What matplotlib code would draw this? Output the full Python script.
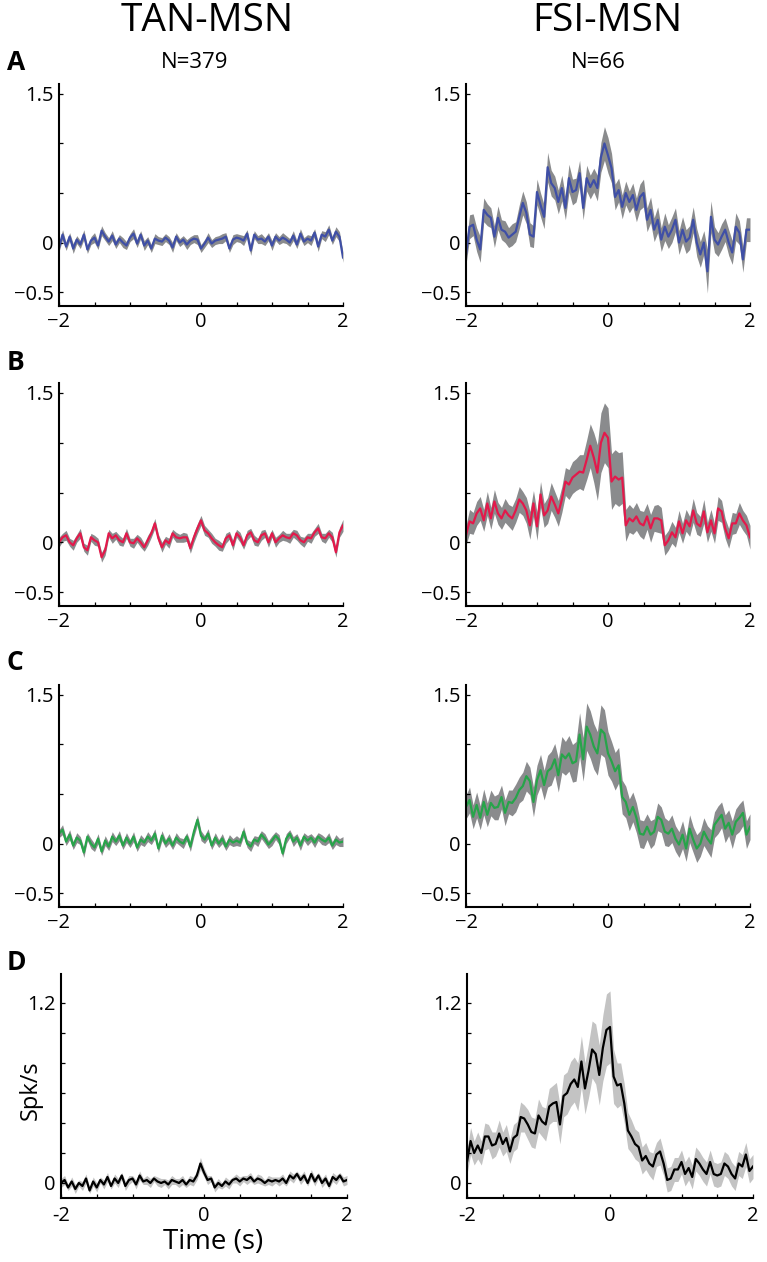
import numpy as np
import matplotlib
matplotlib.use("Agg")
import matplotlib.pyplot as plt

plt.rcParams['font.family'] = ['Open Sans', 'DejaVu Sans']

# ---------------- data ----------------
col_titles = ["TAN-MSN", "FSI-MSN"]
n_labels = ["N=379", "N=66"]
panel_letters = ["A", "B", "C", "D"]

# TAN-MSN (left column) means, t = -2 .. 2 s in 0.05 s steps
tan_A = [-0.05, 0.08, -0.04, 0.06, -0.06, 0.03, -0.02, 0.08, -0.07, 0.02,
         0.05, -0.03, 0.12, 0.06, 0.01, 0.07, -0.02, 0.04, 0.00, -0.03,
         0.05, 0.09, -0.01, 0.08, -0.03, 0.02, -0.06, 0.04, 0.02, 0.01,
         0.05, 0.02, -0.05, 0.06, 0.00, 0.03, -0.02, 0.02, 0.04, 0.03,
         -0.06, -0.01, 0.05, -0.01, 0.02, 0.03, 0.04, 0.06, -0.06, 0.03,
         0.05, 0.04, 0.02, 0.09, -0.08, 0.08, 0.03, 0.04, 0.01, 0.06,
         -0.03, 0.06, 0.02, 0.05, 0.03, 0.00, 0.07, -0.02, 0.09, 0.01,
         0.04, 0.02, 0.10, -0.04, 0.08, 0.06, 0.13, 0.02, 0.11, 0.06,
         -0.15]
tan_B = [0.00, 0.05, 0.07, 0.00, -0.03, 0.04, 0.09, -0.05, -0.08, 0.05,
         0.02, 0.00, -0.15, -0.08, 0.09, 0.04, 0.07, 0.02, 0.00, 0.09,
         0.00, -0.01, 0.04, 0.00, -0.05, 0.02, 0.09, 0.19, 0.04, -0.05,
         0.02, -0.01, 0.09, 0.05, 0.04, 0.05, 0.05, -0.06, 0.05, 0.14,
         0.22, 0.12, 0.09, 0.04, 0.00, -0.03, -0.05, 0.04, 0.07, -0.03,
         0.09, 0.05, -0.03, 0.07, 0.10, 0.02, 0.00, 0.07, 0.09, 0.00,
         0.09, 0.00, 0.04, 0.07, 0.05, 0.04, 0.09, 0.07, 0.02, 0.00,
         0.05, 0.04, 0.10, 0.14, 0.05, 0.04, 0.09, 0.05, -0.10, 0.10,
         0.17]
tan_C = [0.10, 0.14, 0.02, 0.09, -0.02, 0.06, 0.03, -0.09, 0.07, 0.00,
         -0.04, 0.05, -0.08, 0.03, -0.03, 0.07, 0.02, 0.08, -0.02, 0.06,
         0.00, 0.07, -0.04, 0.04, 0.01, 0.07, 0.03, 0.10, -0.05, 0.08,
         0.00, 0.05, -0.02, 0.06, 0.02, 0.00, 0.07, -0.03, 0.12, 0.24,
         0.08, 0.04, 0.10, -0.02, 0.06, 0.00, 0.05, -0.03, 0.04, 0.01,
         0.03, 0.01, 0.12, 0.00, -0.03, 0.04, 0.02, 0.09, 0.05, -0.01,
         0.03, 0.08, 0.04, -0.10, 0.05, 0.10, 0.02, 0.06, -0.02, 0.07,
         0.03, 0.06, 0.01, 0.07, 0.04, 0.02, 0.06, -0.02, 0.04, 0.01,
         0.02]
tan_D = [0.00, 0.02, -0.03, 0.01, -0.04, 0.00, -0.02, 0.03, -0.05, 0.01,
         -0.03, 0.02, -0.01, 0.04, -0.02, 0.03, 0.00, 0.05, -0.02, 0.02,
         0.03, -0.01, 0.05, 0.01, 0.02, 0.00, 0.03, 0.01, 0.00, 0.01,
         -0.01, 0.02, 0.01, 0.00, 0.02, -0.01, 0.02, 0.01, 0.05, 0.13,
         0.07, 0.02, 0.03, -0.03, 0.00, -0.02, 0.01, -0.01, 0.02, 0.03,
         0.01, 0.03, 0.02, 0.04, 0.01, 0.03, 0.02, 0.00, 0.02, 0.01,
         0.02, 0.01, 0.03, 0.00, 0.05, 0.03, 0.06, 0.02, 0.05, 0.00,
         0.06, 0.01, 0.05, 0.00, 0.03, -0.02, 0.04, 0.02, 0.05, 0.01,
         0.02]
tan_sem_A = [0.04, 0.05, 0.04, 0.04, 0.05, 0.04, 0.04, 0.05, 0.04, 0.04,
             0.05, 0.04, 0.05, 0.04, 0.04, 0.05, 0.04, 0.04, 0.05, 0.04,
             0.04, 0.05, 0.04, 0.04, 0.05, 0.04, 0.04, 0.05, 0.04, 0.04,
             0.04, 0.04, 0.05, 0.04, 0.04, 0.04, 0.05, 0.04, 0.04, 0.05,
             0.04, 0.04, 0.05, 0.04, 0.04, 0.04, 0.05, 0.04, 0.04, 0.05,
             0.04, 0.04, 0.05, 0.04, 0.05, 0.04, 0.04, 0.05, 0.04, 0.04,
             0.05, 0.04, 0.04, 0.05, 0.04, 0.04, 0.05, 0.04, 0.05, 0.04,
             0.04, 0.05, 0.04, 0.05, 0.04, 0.05, 0.05, 0.04, 0.05, 0.05,
             0.05]
tan_sem_B = [0.05, 0.04, 0.05, 0.04, 0.05, 0.04, 0.05, 0.04, 0.05, 0.04,
             0.05, 0.04, 0.05, 0.05, 0.04, 0.05, 0.04, 0.05, 0.04, 0.05,
             0.04, 0.05, 0.04, 0.05, 0.04, 0.05, 0.04, 0.05, 0.04, 0.05,
             0.04, 0.05, 0.04, 0.05, 0.04, 0.05, 0.04, 0.05, 0.05, 0.05,
             0.05, 0.05, 0.04, 0.05, 0.04, 0.05, 0.04, 0.05, 0.04, 0.05,
             0.04, 0.05, 0.04, 0.05, 0.04, 0.05, 0.04, 0.05, 0.04, 0.05,
             0.04, 0.05, 0.04, 0.05, 0.04, 0.05, 0.04, 0.05, 0.04, 0.05,
             0.04, 0.05, 0.04, 0.05, 0.04, 0.05, 0.04, 0.05, 0.05, 0.05,
             0.06]
tan_sem_C = [0.04, 0.05, 0.04, 0.05, 0.04, 0.05, 0.04, 0.05, 0.04, 0.05,
             0.04, 0.05, 0.04, 0.05, 0.04, 0.05, 0.04, 0.05, 0.04, 0.05,
             0.04, 0.05, 0.04, 0.05, 0.04, 0.05, 0.04, 0.05, 0.04, 0.05,
             0.04, 0.05, 0.04, 0.05, 0.04, 0.05, 0.04, 0.05, 0.05, 0.05,
             0.05, 0.04, 0.05, 0.04, 0.05, 0.04, 0.05, 0.04, 0.05, 0.04,
             0.05, 0.04, 0.05, 0.04, 0.05, 0.04, 0.05, 0.04, 0.05, 0.04,
             0.05, 0.04, 0.05, 0.04, 0.05, 0.04, 0.05, 0.04, 0.05, 0.04,
             0.05, 0.04, 0.05, 0.04, 0.05, 0.04, 0.05, 0.04, 0.05, 0.04,
             0.05]
tan_sem_D = [0.03, 0.03, 0.02, 0.03, 0.03, 0.02, 0.03, 0.03, 0.02, 0.03,
             0.03, 0.02, 0.03, 0.03, 0.02, 0.03, 0.03, 0.02, 0.03, 0.03,
             0.02, 0.03, 0.03, 0.02, 0.03, 0.03, 0.02, 0.03, 0.03, 0.02,
             0.03, 0.03, 0.02, 0.03, 0.03, 0.02, 0.03, 0.03, 0.03, 0.04,
             0.03, 0.03, 0.02, 0.03, 0.03, 0.02, 0.03, 0.03, 0.02, 0.03,
             0.03, 0.02, 0.03, 0.03, 0.02, 0.03, 0.03, 0.02, 0.03, 0.03,
             0.02, 0.03, 0.03, 0.02, 0.03, 0.03, 0.02, 0.03, 0.03, 0.02,
             0.03, 0.03, 0.02, 0.03, 0.03, 0.02, 0.03, 0.03, 0.02, 0.03,
             0.03]

# FSI-MSN (right column) means
fsi_A = [-0.12, 0.16, 0.18, 0.03, -0.07, 0.33, 0.28, 0.25, 0.06, 0.25,
         0.13, 0.11, 0.05, 0.08, 0.11, 0.26, 0.40, 0.30, 0.08, 0.06,
         0.51, 0.38, 0.26, 0.76, 0.60, 0.55, 0.41, 0.55, 0.35, 0.65,
         0.51, 0.53, 0.70, 0.35, 0.65, 0.56, 0.63, 0.55, 0.86, 1.00,
         0.88, 0.75, 0.46, 0.53, 0.36, 0.50, 0.41, 0.48, 0.33, 0.46,
         0.50, 0.23, 0.33, 0.13, 0.23, 0.03, 0.16, 0.06, 0.13, 0.23,
         0.00, 0.13, 0.01, 0.05, 0.23, 0.00, -0.12, 0.00, -0.29, 0.26,
         0.03, -0.02, 0.06, 0.13, 0.00, -0.10, 0.16, 0.10, -0.17, 0.13,
         0.13]
fsi_B = [0.07, 0.21, 0.19, 0.29, 0.34, 0.22, 0.39, 0.24, 0.41, 0.29,
         0.24, 0.32, 0.27, 0.24, 0.32, 0.43, 0.39, 0.32, 0.17, 0.39,
         0.16, 0.48, 0.27, 0.32, 0.46, 0.38, 0.29, 0.43, 0.61, 0.58,
         0.65, 0.68, 0.71, 0.70, 0.83, 0.97, 0.85, 0.70, 1.00, 1.10,
         1.05, 0.61, 0.66, 0.63, 0.65, 0.17, 0.24, 0.21, 0.26, 0.19,
         0.17, 0.26, 0.14, 0.24, 0.24, 0.22, -0.03, 0.02, 0.10, 0.05,
         0.21, 0.09, 0.22, 0.16, 0.32, 0.19, 0.16, 0.31, 0.10, 0.22,
         0.09, 0.34, 0.31, 0.14, 0.04, 0.19, 0.19, 0.29, 0.22, 0.17,
         0.05]
fsi_C = [0.37, 0.44, 0.27, 0.39, 0.26, 0.42, 0.29, 0.41, 0.36, 0.37,
         0.47, 0.31, 0.42, 0.41, 0.46, 0.54, 0.58, 0.68, 0.63, 0.42,
         0.64, 0.74, 0.59, 0.73, 0.76, 0.85, 0.69, 0.90, 0.86, 0.91,
         0.81, 0.83, 1.10, 0.85, 1.18, 1.10, 0.98, 0.91, 1.15, 1.11,
         0.91, 0.83, 0.73, 0.79, 0.47, 0.42, 0.29, 0.37, 0.26, 0.10,
         0.09, 0.17, 0.09, 0.12, 0.27, 0.24, 0.12, 0.10, 0.15, 0.05,
         -0.01, 0.09, -0.05, 0.15, 0.04, -0.05, 0.00, 0.12, 0.05, 0.00,
         0.19, 0.24, 0.29, 0.15, 0.21, 0.09, 0.22, 0.26, 0.31, 0.09,
         0.17]
fsi_D = [0.14, 0.28, 0.20, 0.25, 0.20, 0.31, 0.31, 0.25, 0.26, 0.33,
         0.26, 0.30, 0.21, 0.30, 0.32, 0.44, 0.43, 0.39, 0.34, 0.33,
         0.45, 0.41, 0.39, 0.51, 0.53, 0.54, 0.39, 0.58, 0.60, 0.66,
         0.69, 0.64, 0.81, 0.63, 0.75, 0.89, 0.86, 0.72, 0.90, 1.02,
         1.04, 0.71, 0.65, 0.66, 0.53, 0.35, 0.31, 0.26, 0.24, 0.15,
         0.18, 0.13, 0.11, 0.19, 0.21, 0.13, 0.02, 0.03, 0.09, 0.09,
         0.14, 0.06, 0.10, 0.04, 0.16, 0.13, 0.09, 0.06, 0.14, 0.06,
         0.05, 0.06, 0.13, 0.11, 0.06, 0.03, 0.13, 0.11, 0.19, 0.08,
         0.11]
fsi_sem_A = [0.10, 0.12, 0.11, 0.12, 0.13, 0.12, 0.11, 0.10, 0.11, 0.12,
             0.10, 0.11, 0.10, 0.11, 0.10, 0.12, 0.12, 0.11, 0.12, 0.11,
             0.13, 0.12, 0.12, 0.15, 0.13, 0.12, 0.12, 0.13, 0.12, 0.14,
             0.13, 0.12, 0.13, 0.12, 0.13, 0.12, 0.12, 0.13, 0.15, 0.17,
             0.18, 0.15, 0.13, 0.12, 0.12, 0.12, 0.11, 0.12, 0.12, 0.13,
             0.14, 0.12, 0.13, 0.12, 0.13, 0.12, 0.14, 0.12, 0.13, 0.12,
             0.12, 0.13, 0.12, 0.12, 0.13, 0.14, 0.13, 0.12, 0.22, 0.16,
             0.13, 0.12, 0.13, 0.12, 0.13, 0.12, 0.14, 0.12, 0.13, 0.12,
             0.12]
fsi_sem_B = [0.10, 0.12, 0.11, 0.12, 0.12, 0.11, 0.12, 0.11, 0.12, 0.11,
             0.11, 0.12, 0.11, 0.12, 0.12, 0.13, 0.12, 0.13, 0.14, 0.13,
             0.14, 0.13, 0.12, 0.13, 0.14, 0.13, 0.13, 0.13, 0.14, 0.15,
             0.16, 0.16, 0.17, 0.18, 0.20, 0.22, 0.25, 0.28, 0.30, 0.30,
             0.30, 0.28, 0.27, 0.27, 0.26, 0.16, 0.14, 0.13, 0.14, 0.13,
             0.14, 0.13, 0.14, 0.13, 0.14, 0.13, 0.10, 0.10, 0.11, 0.10,
             0.11, 0.10, 0.11, 0.10, 0.12, 0.11, 0.10, 0.12, 0.10, 0.11,
             0.10, 0.12, 0.11, 0.10, 0.10, 0.11, 0.10, 0.11, 0.10, 0.10,
             0.12]
fsi_sem_C = [0.12, 0.13, 0.12, 0.13, 0.12, 0.13, 0.12, 0.13, 0.12, 0.13,
             0.12, 0.13, 0.12, 0.13, 0.14, 0.13, 0.14, 0.15, 0.14, 0.15,
             0.15, 0.16, 0.15, 0.16, 0.17, 0.16, 0.17, 0.18, 0.17, 0.18,
             0.19, 0.20, 0.22, 0.22, 0.24, 0.24, 0.23, 0.22, 0.25, 0.24,
             0.22, 0.20, 0.19, 0.18, 0.17, 0.16, 0.16, 0.15, 0.15, 0.14,
             0.14, 0.13, 0.14, 0.13, 0.14, 0.13, 0.14, 0.13, 0.14, 0.13,
             0.13, 0.14, 0.13, 0.14, 0.13, 0.14, 0.13, 0.14, 0.13, 0.14,
             0.13, 0.14, 0.13, 0.14, 0.13, 0.14, 0.13, 0.14, 0.13, 0.14,
             0.13]
fsi_sem_D = [0.08, 0.09, 0.08, 0.09, 0.08, 0.09, 0.08, 0.09, 0.08, 0.09,
             0.08, 0.09, 0.08, 0.09, 0.09, 0.10, 0.09, 0.10, 0.10, 0.10,
             0.11, 0.10, 0.11, 0.12, 0.12, 0.13, 0.13, 0.14, 0.14, 0.15,
             0.15, 0.16, 0.17, 0.17, 0.18, 0.19, 0.20, 0.20, 0.22, 0.24,
             0.24, 0.18, 0.15, 0.14, 0.13, 0.12, 0.11, 0.10, 0.10, 0.09,
             0.09, 0.08, 0.09, 0.08, 0.09, 0.08, 0.08, 0.08, 0.08, 0.08,
             0.08, 0.08, 0.08, 0.08, 0.08, 0.08, 0.08, 0.08, 0.08, 0.08,
             0.08, 0.08, 0.08, 0.08, 0.08, 0.08, 0.08, 0.08, 0.08, 0.08,
             0.08]

line_colors = ["#3f4fa6", "#e3194b", "#27a44a", "#000000"]
band_colors = ["#8a8b8d", "#8a8b8d", "#8a8b8d", "#c3c3c3"]

x_ticks = [-2, -1.5, -1, -0.5, 0, 0.5, 1, 1.5, 2]
x_labels_abc = ["\u22122", "", "", "", "0", "", "", "", "2"]
x_labels_d = ["-2", "", "", "", "0", "", "", "", "2"]
y_ticks_abc = [-0.5, 0, 0.5, 1.0, 1.5]
y_labels_abc = ["\u22120.5", "0", "", "", "1.5"]
y_ticks_d = [0, 0.2, 0.4, 0.6, 0.8, 1.0, 1.2]
y_labels_d = ["0", "", "", "", "", "", "1.2"]

# ---------------- layout ----------------
W, H = 767, 1262
fig = plt.figure(figsize=(W / 100, H / 100), dpi=100)

def ax_at(x0, x1, ytop, ybot):
    return fig.add_axes([x0 / W, 1 - ybot / H, (x1 - x0) / W, (ybot - ytop) / H])

rows_y = [(84, 306), (383, 606), (685, 907), (974, 1198)]
cols_x = [[(59, 343), (466, 750)]] * 3 + [[(61, 347), (467, 753)]]

left_means = [tan_A, tan_B, tan_C, tan_D]
left_sems = [tan_sem_A, tan_sem_B, tan_sem_C, tan_sem_D]
right_means = [fsi_A, fsi_B, fsi_C, fsi_D]
right_sems = [fsi_sem_A, fsi_sem_B, fsi_sem_C, fsi_sem_D]

for r in range(4):
    for c in range(2):
        x0, x1 = cols_x[r][c]
        yt, yb = rows_y[r]
        ax = ax_at(x0, x1, yt, yb)
        m = np.array(left_means[r] if c == 0 else right_means[r])
        s = np.array(left_sems[r] if c == 0 else right_sems[r])
        t = np.linspace(-2, 2, len(m))
        ax.fill_between(t, m - s, m + s, color=band_colors[r], lw=0)
        ax.plot(t, m, color=line_colors[r], lw=1.6)
        ax.set_xlim(-2, 2)
        if r < 3:
            ax.set_ylim(-0.64, 1.6)
            ax.set_yticks(y_ticks_abc)
            ax.set_yticklabels(y_labels_abc)
            ax.set_xticks(x_ticks)
            ax.set_xticklabels(x_labels_abc)
            xpad = 4
        else:
            ax.set_ylim(-0.10, 1.393)
            ax.set_yticks(y_ticks_d)
            ax.set_yticklabels(y_labels_d)
            ax.set_xticks(x_ticks)
            ax.set_xticklabels(x_labels_d)
            xpad = 6
        for sp in ["top", "right"]:
            ax.spines[sp].set_visible(False)
        for sp in ["left", "bottom"]:
            ax.spines[sp].set_linewidth(1.5)
        ax.tick_params(axis="both", direction="in", length=3, width=0.9,
                       labelsize=14.5)
        ax.tick_params(axis="x", pad=xpad)
        ax.tick_params(axis="y", pad=4)

# titles
fig.text(207 / W, 1 - 21 / H, col_titles[0], fontsize=28, ha="center", va="center")
fig.text(607 / W, 1 - 21 / H, col_titles[1], fontsize=28, ha="center", va="center")
fig.text(195 / W, 1 - 63 / H, n_labels[0], fontsize=16, ha="center", va="center")
fig.text(598 / W, 1 - 63 / H, n_labels[1], fontsize=16, ha="center", va="center")

letter_y = [63, 362, 663, 962]
for L, yy in zip(panel_letters, letter_y):
    fig.text(7 / W, 1 - yy / H, L, fontsize=19, fontweight="bold", ha="left", va="center")

fig.text(31 / W, 1 - 1090 / H, "Spk/s", fontsize=17, rotation=90, ha="center", va="center")
fig.text(213 / W, 1 - 1242 / H, "Time (s)", fontsize=20, ha="center", va="center")

fig.savefig("out.png", dpi=100)
